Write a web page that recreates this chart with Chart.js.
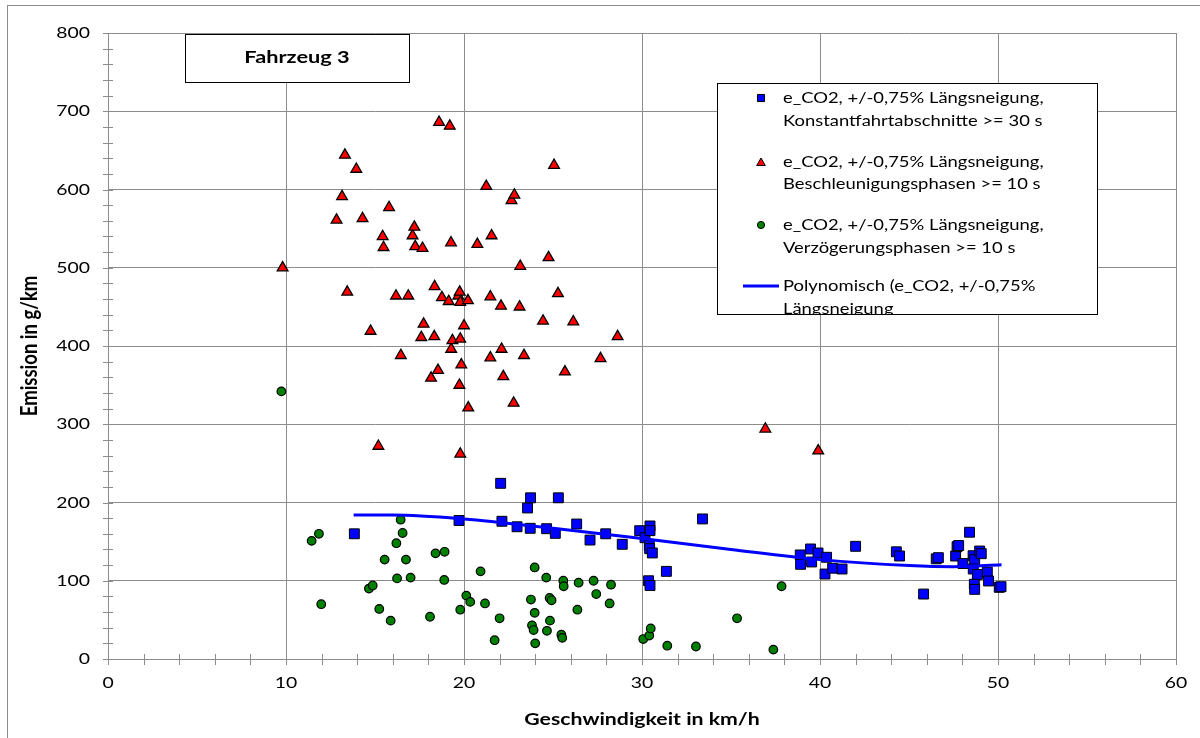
<!DOCTYPE html>
<html>
<head>
<meta charset="utf-8">
<script src="https://cdn.jsdelivr.net/npm/chart.js@4.4.0/dist/chart.umd.min.js"></script>
<style>
  html, body { margin: 0; padding: 0; background: #fff; }
  #wrap { position: relative; width: 1200px; height: 738px; overflow: hidden; }
  #frame { position: absolute; left: 7px; top: 5px; width: 1300px; height: 800px; border: 1px solid #8c8c8c; pointer-events: none; }
</style>
</head>
<body>
<div id="wrap">
  <canvas id="chart" width="1200" height="738"></canvas>
  <div id="frame"></div>
</div>
<script>
// Konstantfahrtabschnitte (blaue Quadrate)
const konstX = [13.84, 19.72, 22.06, 22.13, 22.98, 23.57, 23.72, 23.74, 24.64, 25.13, 25.3, 26.33, 27.08, 27.96, 28.89,
  29.87, 30.17, 30.41, 30.43, 30.45, 30.45, 30.58, 30.37, 30.45, 31.37, 33.4, 38.89, 38.91, 39.47, 39.53, 39.89,
  40.37, 40.28, 40.71, 41.24, 42.0, 44.29, 44.47, 45.82, 46.53, 46.65, 47.62, 47.7, 47.79, 48.03, 48.4, 48.6,
  48.69, 48.97, 49.06, 48.61, 48.84, 49.4, 49.47, 48.67, 48.69, 50.07, 50.17];
const konstY = [160, 177, 224.5, 176, 169, 193, 167, 206, 166.5, 160.6, 206, 172.5, 152, 160, 146.6,
  164, 155, 145, 141, 170, 164, 135.5, 100, 94, 112, 179, 133, 121, 140.6, 124, 135.5,
  130, 108.6, 116, 115, 144, 137, 131.6, 83, 128, 129.5, 131.6, 143.5, 145, 122, 162, 132,
  127, 138, 134.6, 115, 108, 111, 99.7, 95.5, 89, 91.6, 92.4];

// Beschleunigungsphasen (rote Dreiecke)
const beschlX = [9.81, 12.84, 13.15, 13.31, 13.44, 13.95, 14.3, 14.75, 15.19, 15.43, 15.48, 15.79, 16.18, 16.45,
  16.87, 17.11, 17.21, 17.26, 17.6, 17.67, 17.73, 18.15, 18.33, 18.35, 18.54, 18.6, 18.76, 19.14, 19.2, 19.27,
  19.28, 19.35, 19.68, 19.74, 19.76, 19.79, 19.79, 19.79, 19.85, 20.0, 20.22, 20.24, 20.75, 21.25, 21.48, 21.48,
  21.55, 22.08, 22.11, 22.21, 22.67, 22.79, 22.83, 23.12, 23.16, 23.37, 24.44, 24.75, 25.06, 25.28, 25.67, 26.14,
  27.67, 28.63, 36.93, 39.9];
const beschlY = [500, 561, 591, 644, 469, 626, 563, 419, 272, 540, 526, 577, 464, 388,
  464, 541, 552, 527, 411, 525, 428, 359, 412, 476, 369, 686, 462, 457, 681, 532,
  396, 407, 464, 350, 469, 456, 409, 262, 376, 426, 458, 321, 530, 604, 463, 385,
  541, 451, 396, 361, 586, 327, 593, 450, 502, 388, 432, 513, 631, 467, 367, 431,
  384, 412, 294, 266];

// Verzögerungsphasen (grüne Kreise)
const verzX = [9.74, 11.44, 11.85, 11.98, 14.66, 14.87, 15.24, 15.54, 15.88, 16.2, 16.24, 16.44, 16.55, 16.74,
  17.0, 18.09, 18.4, 18.89, 18.91, 19.79, 20.13, 20.35, 20.93, 21.18, 21.72, 22.0, 23.76, 23.82, 23.91, 23.97,
  23.97, 24.0, 24.62, 24.66, 24.81, 24.83, 24.92, 25.47, 25.52, 25.58, 25.6, 26.37, 26.44, 27.28, 27.43, 28.18,
  28.26, 30.07, 30.41, 30.49, 31.42, 33.03, 35.34, 37.38, 37.84];
const verzY = [342, 151, 160, 70, 90, 94, 64, 127, 49, 148, 103, 178, 161, 127,
  104, 54, 135, 101, 137, 63, 81, 73, 112, 71, 24, 52, 76, 43, 37, 117,
  59, 20, 104, 36, 78, 49, 75, 31, 27, 100, 93, 63, 97.5, 100, 83, 71,
  95, 25.5, 30, 39, 17, 16, 52, 12, 93];

// Polynomische Trendlinie
const trendX = [13.8, 16, 20, 25, 30, 35, 40, 45, 47.5, 50.2];
const trendY = [184, 184, 179, 167, 154, 140, 127, 119.5, 118, 120.5];

const chartTitle = 'Fahrzeug 3';
const xTitle = 'Geschwindigkeit in km/h';
const yTitle = 'Emission in g/km';

const FONT = 'Lato';
const GRID = '#8c8c8c';

function pts(xs, ys) {
  return xs.map((x, i) => ({ x: x, y: ys[i] }));
}

const legendEntries = [
  { style: 'rect', color: '#0000ff', lines: ['e_CO2, +/-0,75% Längsneigung,', 'Konstantfahrtabschnitte >= 30 s'] },
  { style: 'triangle', color: '#ff0000', lines: ['e_CO2, +/-0,75% Längsneigung,', 'Beschleunigungsphasen >= 10 s'] },
  { style: 'circle', color: '#008000', lines: ['e_CO2, +/-0,75% Längsneigung,', 'Verzögerungsphasen >= 10 s'] },
  { style: 'line', color: '#0000ff', lines: ['Polynomisch (e_CO2, +/-0,75%', 'Längsneigung'] }
];

// Text in der Breite gestreckt (Vorlage ist horizontal gezogen)
function wideText(ctx, text, x, y, sx, align) {
  ctx.save();
  ctx.translate(x, y);
  ctx.scale(sx, 1);
  ctx.textAlign = align;
  ctx.fillText(text, 0, 0);
  ctx.restore();
}

const extras = {
  id: 'extras',
  afterDraw(chart) {
    const ctx = chart.ctx;
    const xs = chart.scales.x, ys = chart.scales.y;
    ctx.save();

    // kleine Teilstriche an den Achsen
    ctx.strokeStyle = GRID;
    ctx.lineWidth = 1;
    ctx.beginPath();
    for (let v = 0; v <= 800; v += 20) {
      const py = Math.round(ys.getPixelForValue(v)) + 0.5;
      ctx.moveTo(xs.left - 5, py);
      ctx.lineTo(xs.left + 5, py);
    }
    for (let v = 0; v <= 60; v += 2) {
      const px = Math.round(xs.getPixelForValue(v)) + 0.5;
      ctx.moveTo(px, ys.bottom - 5);
      ctx.lineTo(px, ys.bottom + 6);
    }
    ctx.stroke();

    // Achsenbeschriftung
    ctx.fillStyle = '#000';
    ctx.textBaseline = 'middle';
    ctx.font = '15.5px ' + FONT;
    ys.ticks.forEach(t => wideText(ctx, t.label, xs.left - 18, ys.getPixelForValue(t.value), 1.25, 'right'));
    xs.ticks.forEach(t => wideText(ctx, t.label, xs.getPixelForValue(t.value), ys.bottom + 24, 1.25, 'center'));

    ctx.font = 'bold 17px ' + FONT;
    wideText(ctx, xTitle, (xs.left + xs.right) / 2, 720, 1.25, 'center');
    ctx.save();
    ctx.translate(30, (ys.top + ys.bottom) / 2);
    ctx.rotate(-Math.PI / 2);
    ctx.scale(1, 1.25);
    ctx.font = 'bold 18.5px ' + FONT;
    ctx.textAlign = 'center';
    ctx.fillText(yTitle, 0, 0);
    ctx.restore();

    // Titelkasten
    ctx.fillStyle = '#fff';
    ctx.fillRect(185, 34, 224, 48);
    ctx.strokeStyle = '#000';
    ctx.strokeRect(185.5, 34.5, 224, 48);
    ctx.fillStyle = '#000';
    ctx.font = 'bold 17px ' + FONT;
    wideText(ctx, chartTitle, 297, 58, 1.28, 'center');

    // Legende
    const lx = 717, ly = 83, lw = 380, lh = 231;
    ctx.fillStyle = '#fff';
    ctx.fillRect(lx, ly, lw, lh);
    ctx.save();
    ctx.beginPath();
    ctx.rect(lx, ly, lw, lh);
    ctx.clip();
    const rows = [[98, 121], [162, 184], [225, 248], [286, 309]];
    ctx.font = '16px ' + FONT;
    legendEntries.forEach((e, i) => {
      const my = rows[i][0];
      if (e.style === 'line') {
        ctx.strokeStyle = e.color;
        ctx.lineWidth = 3;
        ctx.beginPath();
        ctx.moveTo(743, my);
        ctx.lineTo(779, my);
        ctx.stroke();
      } else {
        ctx.fillStyle = e.color;
        ctx.strokeStyle = '#000';
        ctx.lineWidth = 1;
        const r = e.style === 'circle' ? 3.6 : 5;
        Chart.helpers.drawPoint(ctx, { pointStyle: e.style, radius: r, rotation: 0, borderWidth: 1 }, 761, e.style === 'triangle' ? my + 1 : my);
      }
      ctx.fillStyle = '#000';
      e.lines.forEach((t, j) => wideText(ctx, t, 783, rows[i][j], 1.15, 'left'));
    });
    ctx.restore();
    ctx.strokeStyle = '#000';
    ctx.lineWidth = 1;
    ctx.strokeRect(lx + 0.5, ly + 0.5, lw, lh);

    ctx.restore();
  }
};

Chart.defaults.font.family = FONT;
Chart.defaults.color = '#000';

new Chart(document.getElementById('chart'), {
  type: 'scatter',
  data: {
    datasets: [
      {
        label: 'Polynomisch (e_CO2, +/-0,75% Längsneigung)',
        data: pts(trendX, trendY),
        showLine: true,
        pointRadius: 0,
        borderColor: '#0000ff',
        borderWidth: 3,
        cubicInterpolationMode: 'monotone'
      },
      {
        label: 'e_CO2, +/-0,75% Längsneigung, Konstantfahrtabschnitte >= 30 s',
        data: pts(konstX, konstY),
        pointStyle: 'rect',
        pointRadius: 7,
        backgroundColor: '#0000ff',
        borderColor: '#000',
        borderWidth: 1
      },
      {
        label: 'e_CO2, +/-0,75% Längsneigung, Beschleunigungsphasen >= 10 s',
        data: pts(beschlX, beschlY),
        pointStyle: 'triangle',
        pointRadius: 6.2,
        backgroundColor: '#ff0000',
        borderColor: '#000',
        borderWidth: 1.3
      },
      {
        label: 'e_CO2, +/-0,75% Längsneigung, Verzögerungsphasen >= 10 s',
        data: pts(verzX, verzY),
        pointStyle: 'circle',
        pointRadius: 4.3,
        backgroundColor: '#008000',
        borderColor: '#000',
        borderWidth: 1.2
      }
    ]
  },
  options: {
    responsive: false,
    animation: false,
    layout: { padding: { top: 33, right: 24, left: 0, bottom: 0 } },
    plugins: {
      legend: { display: false },
      tooltip: { enabled: false }
    },
    scales: {
      x: {
        type: 'linear',
        min: 0,
        max: 60,
        ticks: { stepSize: 10, display: false },
        grid: { color: GRID, drawTicks: false },
        border: { color: GRID },
        afterFit(s) { s.height = 79; }
      },
      y: {
        min: 0,
        max: 800,
        ticks: { stepSize: 100, display: false },
        grid: { color: GRID, drawTicks: false },
        border: { color: GRID },
        afterFit(s) { s.width = 108; }
      }
    }
  },
  plugins: [extras]
});
</script>
</body>
</html>
